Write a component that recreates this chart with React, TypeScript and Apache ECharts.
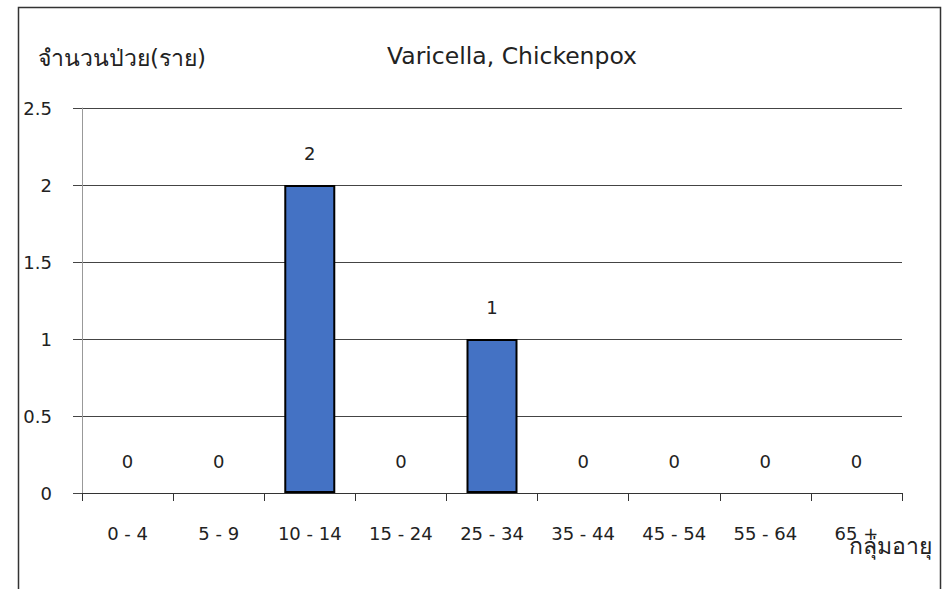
import React, { useEffect, useRef } from "react";
import * as echarts from "echarts";

const categories = ["0 - 4", "5 - 9", "10 - 14", "15 - 24", "25 - 34", "35 - 44", "45 - 54", "55 - 64", "65 +"];
const cases = [0, 0, 2, 0, 1, 0, 0, 0, 0];
const chartTitle = "Varicella, Chickenpox";
const yName = "จำนวนป่วย(ราย)";
const xName = "กลุ่มอายุ";

const FONT = "'DejaVu Sans', 'Noto Sans', sans-serif";
const TXT = "#222";

export default function App() {
  const ref = useRef<HTMLDivElement>(null);
  useEffect(() => {
    document.body.style.margin = "0";
    const chart = echarts.init(ref.current!, null, { renderer: "svg" });
    chart.setOption({
      animation: false,
      backgroundColor: "#fff",
      textStyle: { fontFamily: FONT },
      grid: { left: 82, right: 49, top: 108, bottom: 96 },
      xAxis: {
        type: "category",
        data: categories,
        axisLine: { lineStyle: { color: "#333", width: 1 } },
        axisTick: { show: true, alignWithLabel: false, length: 8, lineStyle: { color: "#333" } },
        axisLabel: { color: TXT, fontSize: 18, margin: 31, fontFamily: FONT, interval: 0 },
      },
      yAxis: {
        type: "value",
        min: 0,
        max: 2.5,
        interval: 0.5,
        axisLine: { show: true, lineStyle: { color: "#999", width: 1 } },
        axisTick: { show: true, length: 9, lineStyle: { color: "#444" } },
        axisLabel: { color: TXT, fontSize: 18, margin: 30, fontFamily: FONT },
        splitLine: { show: true, lineStyle: { color: "#444", width: 1 } },
      },
      series: [
        {
          type: "bar",
          data: cases.map((v) => ({
            value: v,
            itemStyle: v === 0 ? { borderWidth: 0, color: "transparent" } : undefined,
          })),
          barWidth: 51,
          itemStyle: { color: "#4472C4", borderColor: "#000", borderWidth: 2 },
          label: { show: true, position: "top", distance: 23, color: TXT, fontSize: 18, fontFamily: FONT },
        },
      ],
      graphic: [
        {
          type: "rect",
          shape: { x: 18.5, y: 7.5, width: 922, height: 600 },
          style: { fill: "none", stroke: "#333", lineWidth: 1.5 },
          silent: true,
        },
        {
          type: "text",
          x: 512,
          y: 56,
          style: { text: chartTitle, fill: TXT, fontSize: 23.5, fontFamily: FONT, textAlign: "center", textVerticalAlign: "middle" },
        },
        {
          type: "text",
          x: 38,
          y: 58,
          style: { text: yName, fill: TXT, fontSize: 23, fontFamily: FONT, textAlign: "left", textVerticalAlign: "middle" },
        },
        {
          type: "text",
          x: 932,
          y: 546,
          style: { text: xName, fill: TXT, fontSize: 23, fontFamily: FONT, textAlign: "right", textVerticalAlign: "middle" },
        },
      ],
    });
    return () => chart.dispose();
  }, []);
  return <div ref={ref} style={{ width: 951, height: 589 }} />;
}
